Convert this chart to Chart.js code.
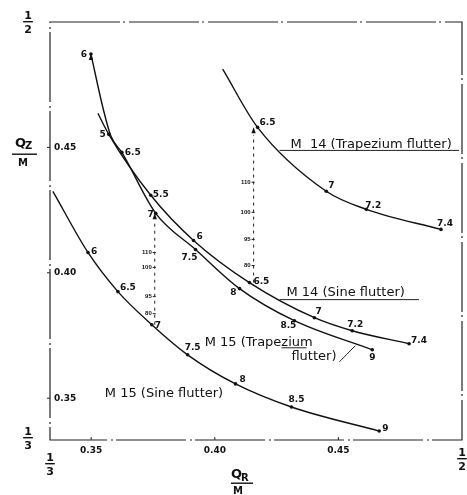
<!DOCTYPE html>
<html>
<head>
<meta charset="utf-8">
<script src="https://cdn.jsdelivr.net/npm/chart.js@4.4.0/dist/chart.umd.min.js"></script>
<style>
html, body { margin: 0; padding: 0; background: #fff; }
</style>
</head>
<body>
<canvas id="myChart" width="467" height="495"></canvas>
<script>
// axis ticks (Q/M values)
const xTicks = [0.35, 0.40, 0.45];
const yTicks = [0.35, 0.40, 0.45];

// M 15 (Trapezium flutter)
const m15TrapMach = ['6', '', '', '6.5', '7', '7.5', '8', '8.5', '9'];
const m15TrapX = [0.3499, 0.3547, 0.3580, 0.3624, 0.3761, 0.3922, 0.4100, 0.4322, 0.4637];
const m15TrapY = [0.4872, 0.4660, 0.4544, 0.4480, 0.4237, 0.4093, 0.3937, 0.3809, 0.3693];

// M 14 (Sine flutter)
const m14SineMach = ['', '5', '5.5', '6', '6.5', '7', '7.2', '7.4'];
const m14SineX = [0.3527, 0.3571, 0.3741, 0.3914, 0.4140, 0.4403, 0.4556, 0.4786];
const m14SineY = [0.4636, 0.4552, 0.4309, 0.4129, 0.3961, 0.3821, 0.3769, 0.3717];

// M 15 (Sine flutter)
const m15SineMach = ['', '6', '6.5', '7', '7.5', '8', '8.5', '9'];
const m15SineX = [0.3345, 0.3487, 0.3608, 0.3745, 0.3890, 0.4084, 0.4310, 0.4665];
const m15SineY = [0.4325, 0.4081, 0.3925, 0.3793, 0.3673, 0.3557, 0.3465, 0.3369];

// M 14 (Trapezium flutter)
const m14TrapMach = ['', '6.5', '7', '7.2', '7.4'];
const m14TrapX = [0.4032, 0.4173, 0.4451, 0.4613, 0.4915];
const m14TrapY = [0.4812, 0.4580, 0.4325, 0.4253, 0.4173];

// dashed verticals: sine -> trapezium at same Mach number
const jumpX = [0.3757, 0.4157];
const jumpFrom = [0.3793, 0.3961];
const jumpTo = [0.4237, 0.4580];
const jumpLabels = ['110', '100', '95', '80'];
const jumpLabelY1 = [0.4081, 0.4021, 0.3905, 0.3837];
const jumpLabelY2 = [0.4361, 0.4241, 0.4133, 0.4029];

function pts(xs, ys) { return xs.map((v, i) => ({x: v, y: ys[i]})); }

function curve(xs, ys, mach) {
  return {
    data: pts(xs, ys),
    showLine: true,
    borderColor: '#111',
    borderWidth: 1.4,
    pointRadius: mach.map(m => m ? 1.8 : 0),
    pointBackgroundColor: '#111',
    pointBorderWidth: 0,
    cubicInterpolationMode: 'monotone',
    fill: false
  };
}

function jump(i) {
  return {
    data: [{x: jumpX[i], y: jumpFrom[i]}, {x: jumpX[i], y: jumpTo[i] - 0.003}],
    showLine: true,
    borderColor: '#222',
    borderWidth: 1,
    borderDash: [3, 4],
    pointRadius: 0
  };
}

// label offsets in px: [dx, dy, align]
const labelSets = [
  {xs: m15TrapX, ys: m15TrapY, mach: m15TrapMach,
   off: [[-4,1,'right'],null,null,[3,0,'left'],[-2,1,'right'],[-6,8,'center'],[-3,4,'right'],[-6,5,'center'],[0,8,'center']]},
  {xs: m14SineX, ys: m14SineY, mach: m14SineMach,
   off: [null,[-3,0,'right'],[2,-1,'left'],[3,-4,'left'],[4,-1,'left'],[1,-6,'left'],[3,-6,'center'],[2,-3,'left']]},
  {xs: m15SineX, ys: m15SineY, mach: m15SineMach,
   off: [null,[3,-1,'left'],[2,-4,'left'],[3,1,'left'],[5,-7,'center'],[4,-4,'left'],[5,-7,'center'],[3,-2,'left']]},
  {xs: m14TrapX, ys: m14TrapY, mach: m14TrapMach,
   off: [null,[2,-5,'left'],[2,-6,'left'],[-1,-4,'left'],[-4,-6,'left']]}
];

// curve names, in data units
const notes = [
  {t: 'M  14 (Trapezium flutter)', x: 0.4306, y: 0.4512},
  {t: 'M 14 (Sine flutter)', x: 0.4290, y: 0.3921},
  {t: 'M 15 (Trapezium', x: 0.3959, y: 0.3721},
  {t: 'flutter)', x: 0.4310, y: 0.3665},
  {t: 'M 15 (Sine flutter)', x: 0.3555, y: 0.3517}
];
const leaders = [
  [0.4262, 0.4488, 0.4988, 0.4488],
  [0.4262, 0.3893, 0.4826, 0.3893],
  [0.4270, 0.3701, 0.4371, 0.3701],
  [0.4504, 0.3645, 0.4568, 0.3709]
];

function frac(ctx, top, bot, cx, y, size) {
  ctx.textAlign = 'center';
  ctx.textBaseline = 'alphabetic';
  ctx.font = 'bold ' + size + 'px "DejaVu Sans"';
  const w = Math.max(ctx.measureText(top).width, ctx.measureText(bot).width);
  ctx.fillText(top, cx, y - 3);
  ctx.fillRect(cx - w / 2 - 1, y - 1, w + 2, 1.4);
  ctx.fillText(bot, cx, y + size);
}

const overlay = {
  id: 'overlay',
  afterDatasetsDraw(chart) {
    const {ctx, chartArea: a, scales: {x, y}} = chart;
    const px = v => x.getPixelForValue(v), py = v => y.getPixelForValue(v);
    ctx.save();
    ctx.fillStyle = '#111';
    ctx.strokeStyle = '#222';

    // broken frame
    ctx.lineWidth = 1.2;
    ctx.setLineDash([70, 3, 2, 4]);
    ctx.strokeRect(a.left, a.top, a.right - a.left, a.bottom - a.top);
    ctx.setLineDash([]);

    // ticks
    ctx.lineWidth = 1;
    ctx.font = 'bold 9px "DejaVu Sans"';
    ctx.textBaseline = 'middle';
    xTicks.forEach(v => {
      ctx.beginPath(); ctx.moveTo(px(v), a.bottom); ctx.lineTo(px(v), a.bottom - 3); ctx.stroke();
      ctx.textAlign = 'center';
      ctx.fillText(v.toFixed(2), px(v), a.bottom + 11);
    });
    yTicks.forEach(v => {
      ctx.beginPath(); ctx.moveTo(a.left - 3, py(v)); ctx.lineTo(a.left, py(v)); ctx.stroke();
      ctx.textAlign = 'left';
      ctx.fillText(v.toFixed(2), a.left + 4, py(v));
    });

    // mach labels
    ctx.font = 'bold 9px "DejaVu Sans"';
    labelSets.forEach(s => {
      s.mach.forEach((m, i) => {
        if (!m) return;
        const o = s.off[i];
        ctx.textAlign = o[2];
        ctx.fillText(m, px(s.xs[i]) + o[0], py(s.ys[i]) + o[1]);
      });
    });

    // arrowheads
    const arrow = (xv, yv) => {
      const X = px(xv), Y = py(yv);
      ctx.beginPath(); ctx.moveTo(X, Y); ctx.lineTo(X - 2.2, Y + 6); ctx.lineTo(X + 2.2, Y + 6); ctx.closePath(); ctx.fill();
    };
    arrow(m15TrapX[0], m15TrapY[0]);
    jumpX.forEach((xv, i) => arrow(xv, jumpTo[i]));

    // jump labels
    ctx.font = 'bold 6px "Liberation Sans"';
    ctx.textAlign = 'right';
    [jumpLabelY1, jumpLabelY2].forEach((ys, k) => {
      ys.forEach((yv, i) => {
        const X = px(jumpX[k]), Y = py(yv);
        ctx.beginPath(); ctx.moveTo(X - 2, Y); ctx.lineTo(X + 1, Y); ctx.stroke();
        ctx.fillText(jumpLabels[i], X - 3, Y);
      });
    });

    // curve names and leaders
    ctx.lineWidth = 1;
    leaders.forEach(l => {
      ctx.beginPath(); ctx.moveTo(px(l[0]), py(l[1])); ctx.lineTo(px(l[2]), py(l[3])); ctx.stroke();
    });
    ctx.font = '13px "DejaVu Sans"';
    ctx.textAlign = 'left';
    ctx.textBaseline = 'middle';
    notes.forEach(n => ctx.fillText(n.t, px(n.x), py(n.y)));

    // axis titles
    frac(ctx, '1', '2', 28, 22, 11);
    frac(ctx, '1', '3', 28, 438, 11);
    frac(ctx, '1', '3', 50, 464, 11);
    frac(ctx, '1', '2', 462, 459, 11);

    ctx.textBaseline = 'alphabetic';
    ctx.textAlign = 'left';
    ctx.font = 'bold 13px "DejaVu Sans"';
    ctx.fillText('Q', 15, 147);
    ctx.font = 'bold 10px "DejaVu Sans"';
    ctx.fillText('Z', 25, 149);
    ctx.fillRect(12, 153.5, 25, 1.4);
    ctx.textAlign = 'center';
    ctx.fillText('M', 23, 166);

    ctx.textAlign = 'left';
    ctx.font = 'bold 13px "DejaVu Sans"';
    ctx.fillText('Q', 231, 478);
    ctx.font = 'bold 10px "DejaVu Sans"';
    ctx.fillText('R', 241, 481);
    ctx.fillRect(231, 482.5, 22, 1.4);
    ctx.textAlign = 'center';
    ctx.fillText('M', 238, 494);

    ctx.restore();
  }
};

new Chart(document.getElementById('myChart'), {
  type: 'scatter',
  data: {
    datasets: [
      curve(m15TrapX, m15TrapY, m15TrapMach),
      curve(m14SineX, m14SineY, m14SineMach),
      curve(m15SineX, m15SineY, m15SineMach),
      curve(m14TrapX, m14TrapY, m14TrapMach),
      jump(0),
      jump(1)
    ]
  },
  options: {
    responsive: false,
    animation: false,
    devicePixelRatio: 1,
    layout: { padding: { left: 50, right: 5, top: 22, bottom: 55 } },
    scales: {
      x: { type: 'linear', display: false, min: 1 / 3, max: 1 / 2 },
      y: { type: 'linear', display: false, min: 1 / 3, max: 1 / 2 }
    },
    plugins: {
      legend: { display: false },
      tooltip: { enabled: false }
    }
  },
  plugins: [overlay]
});
</script>
</body>
</html>
